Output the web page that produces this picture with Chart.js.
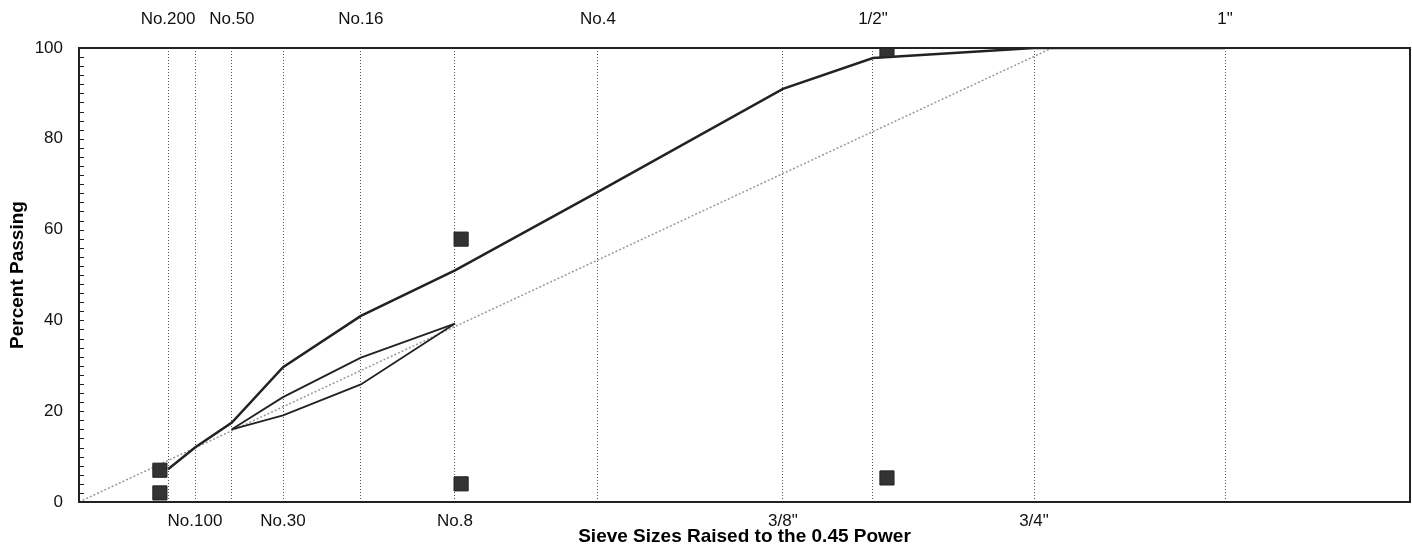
<!DOCTYPE html>
<html>
<head>
<meta charset="utf-8">
<script src="https://cdn.jsdelivr.net/npm/chart.js@4.4.0/dist/chart.umd.min.js"></script>
<style>
  html, body { margin: 0; padding: 0; background: #fff; }
</style>
</head>
<body>
<canvas id="gradationChart" width="1412" height="548"></canvas>
<script>
// sieves and their position on the 0.45 power scale
const sieveNames = ['No.200', 'No.100', 'No.50', 'No.30', 'No.16', 'No.8', 'No.4', '3/8"', '1/2"', '3/4"', '1"'];
const sievePos = [0.35, 0.456, 0.601, 0.802, 1.108, 1.478, 2.04, 2.767, 3.121, 3.754, 4.505];
const topLabels = ['No.200', 'No.50', 'No.16', 'No.4', '1/2"', '1"'];
const bottomLabels = ['No.100', 'No.30', 'No.8', '3/8"', '3/4"'];
const xMax = 5.232;

// gradation curve, percent passing at each sieve
const gradation = [7.2, 12, 17.5, 29.7, 41, 51, 68.3, 91, 97.8, 100, 100];

// restricted zone
const zoneSieves = ['No.50', 'No.30', 'No.16', 'No.8'];
const zoneUpper = [16, 23.1, 31.8, 39.3];
const zoneLower = [16, 19.1, 25.9, 39.3];

// maximum density line
const maxDensityX = [0, 3.825];
const maxDensityY = [0, 100];

// control points
const controlX = [0.318, 0.318, 1.502, 1.502, 3.176, 3.176];
const controlY = [7, 2, 57.9, 4, 99.6, 5.3];

const yTicks = [0, 20, 40, 60, 80, 100];

const ink = '#222';
const gridGray = '#555';
const fontFamily = '"Liberation Sans", Arial, Helvetica, sans-serif';

function posOf(name) {
    return sievePos[sieveNames.indexOf(name)];
}

// frame around the plot plus small inward ticks on the y axis
const framePlugin = {
    id: 'frame',
    afterDatasetsDraw(chart) {
        const { ctx, chartArea } = chart;
        const y = chart.scales.y;
        ctx.save();
        ctx.strokeStyle = ink;
        ctx.lineWidth = 1;
        for (let v = 0; v <= 100; v += 2) {
            const py = Math.round(y.getPixelForValue(v)) + 0.5;
            ctx.beginPath();
            ctx.moveTo(chartArea.left, py);
            ctx.lineTo(chartArea.left + 5, py);
            ctx.stroke();
        }
        ctx.lineWidth = 2;
        ctx.strokeRect(chartArea.left, chartArea.top, chartArea.right - chartArea.left, chartArea.bottom - chartArea.top);
        ctx.restore();
    }
};

new Chart(document.getElementById('gradationChart'), {
    type: 'scatter',
    data: {
        datasets: [
            {
                label: 'Gradation',
                data: sievePos.map((x, i) => ({ x: x, y: gradation[i] })),
                showLine: true,
                borderColor: ink,
                borderWidth: 2.5,
                pointRadius: 0,
                order: 1
            },
            {
                label: 'Restricted zone upper',
                data: zoneSieves.map((n, i) => ({ x: posOf(n), y: zoneUpper[i] })),
                showLine: true,
                borderColor: ink,
                borderWidth: 1.8,
                pointRadius: 0,
                order: 2
            },
            {
                label: 'Restricted zone lower',
                data: zoneSieves.map((n, i) => ({ x: posOf(n), y: zoneLower[i] })),
                showLine: true,
                borderColor: ink,
                borderWidth: 1.8,
                pointRadius: 0,
                order: 2
            },
            {
                label: 'Maximum density line',
                data: maxDensityX.map((x, i) => ({ x: x, y: maxDensityY[i] })),
                showLine: true,
                borderColor: '#999',
                borderWidth: 1.5,
                borderDash: [2, 2],
                pointRadius: 0,
                order: 3
            },
            {
                label: 'Control points',
                data: controlX.map((x, i) => ({ x: x, y: controlY[i] })),
                showLine: false,
                pointStyle: 'rect',
                pointRadius: 10,
                backgroundColor: '#333',
                borderColor: '#222',
                borderWidth: 1,
                order: 0
            }
        ]
    },
    options: {
        responsive: false,
        animation: false,
        devicePixelRatio: 1,
        layout: { autoPadding: false, padding: { left: 0, right: 2, top: 0, bottom: 0 } },
        plugins: { legend: { display: false }, tooltip: { enabled: false } },
        scales: {
            x: {
                type: 'linear',
                position: 'bottom',
                min: 0,
                max: xMax,
                afterBuildTicks: (scale) => { scale.ticks = bottomLabels.map(n => ({ value: posOf(n) })); },
                afterFit: (scale) => { scale.height = 46; scale.paddingLeft = 0; scale.paddingRight = 0; },
                ticks: {
                    callback: (v, i) => bottomLabels[i],
                    color: '#111',
                    font: { family: fontFamily, size: 17 },
                    padding: 9,
                    maxRotation: 0,
                    autoSkip: false
                },
                grid: { color: gridGray, lineWidth: 1, drawTicks: false },
                border: { display: false, dash: [1, 2] },
                title: {
                    display: true,
                    text: 'Sieve Sizes Raised to the 0.45 Power',
                    color: '#000',
                    font: { family: fontFamily, size: 19, weight: 'bold' },
                    padding: { top: 0, bottom: 0 }
                }
            },
            xTop: {
                type: 'linear',
                position: 'top',
                min: 0,
                max: xMax,
                afterBuildTicks: (scale) => { scale.ticks = topLabels.map(n => ({ value: posOf(n) })); },
                afterFit: (scale) => { scale.height = 48; scale.paddingLeft = 0; scale.paddingRight = 0; },
                ticks: {
                    callback: (v, i) => topLabels[i],
                    color: '#111',
                    font: { family: fontFamily, size: 17 },
                    padding: 18,
                    maxRotation: 0,
                    autoSkip: false
                },
                grid: { color: gridGray, lineWidth: 1, drawTicks: false },
                border: { display: false, dash: [1, 2] }
            },
            y: {
                type: 'linear',
                position: 'left',
                min: 0,
                max: 100,
                afterBuildTicks: (scale) => { scale.ticks = yTicks.map(v => ({ value: v })); },
                afterFit: (scale) => { scale.width = 79; },
                ticks: {
                    color: '#111',
                    font: { family: fontFamily, size: 17 },
                    padding: 16
                },
                grid: { display: false, drawTicks: false },
                border: { display: false },
                title: {
                    display: true,
                    text: 'Percent Passing',
                    color: '#000',
                    font: { family: fontFamily, size: 19, weight: 'bold' },
                    padding: { top: 6, bottom: 0 }
                }
            }
        }
    },
    plugins: [framePlugin]
});
</script>
</body>
</html>
